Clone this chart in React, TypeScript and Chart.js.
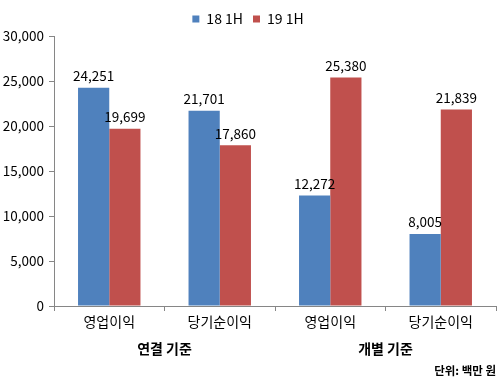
import React, { useEffect, useRef } from "react";
import { Chart, registerables } from "chart.js";

Chart.register(...registerables);

const categories = ["영업이익", "당기순이익", "영업이익", "당기순이익"];
const groupLabels = ["연결 기준", "개별 기준"];
const seriesNames = ["18 1H", "19 1H"];
const series18 = [24251, 21701, 12272, 8005];
const series19 = [19699, 17860, 25380, 21839];
const unitText = "단위: 백만 원";

const FONT = "'Noto Sans CJK KR', 'Noto Sans', sans-serif";
const BLUE = "#4F81BD";
const RED = "#C0504D";

const extrasPlugin = {
  id: "extras",
  afterDatasetsDraw(chart: any) {
    const ctx = chart.ctx;
    ctx.save();
    ctx.font = `13.5px ${FONT}`;
    ctx.fillStyle = "#000";
    ctx.textAlign = "center";
    ctx.textBaseline = "bottom";
    chart.data.datasets.forEach((ds: any, di: number) => {
      const meta = chart.getDatasetMeta(di);
      meta.data.forEach((bar: any, i: number) => {
        const v = ds.data[i];
        ctx.fillText(v.toLocaleString("en-US"), bar.x, bar.y - 5);
      });
    });
    const xs = chart.scales.x;
    ctx.font = `bold 14px ${FONT}`;
    ctx.textBaseline = "middle";
    const g1 = (xs.getPixelForValue(0) + xs.getPixelForValue(1)) / 2;
    const g2 = (xs.getPixelForValue(2) + xs.getPixelForValue(3)) / 2;
    ctx.fillText(groupLabels[0], g1, 349);
    ctx.fillText(groupLabels[1], g2, 349);
    ctx.font = `bold 11.5px ${FONT}`;
    ctx.textAlign = "right";
    ctx.fillText(unitText, 496, 371);
    ctx.restore();
  },
};

export default function App() {
  const ref = useRef<HTMLCanvasElement | null>(null);
  useEffect(() => {
    document.body.style.margin = "0";
    const chart = new Chart(ref.current as HTMLCanvasElement, {
      type: "bar",
      data: {
        labels: categories,
        datasets: [
          { label: seriesNames[0], data: series18, backgroundColor: BLUE, barPercentage: 1, categoryPercentage: 0.565 },
          { label: seriesNames[1], data: series19, backgroundColor: RED, barPercentage: 1, categoryPercentage: 0.565 },
        ],
      },
      options: {
        responsive: false,
        animation: false,
        layout: { padding: { left: 0, right: 4, top: 2, bottom: 0 } },
        plugins: {
          legend: {
            position: "top",
            labels: {
              boxWidth: 7,
              boxHeight: 7,
              padding: 10,
              color: "#000",
              font: { size: 14, family: FONT },
            },
          },
          tooltip: { enabled: false },
        },
        scales: {
          x: {
            grid: { display: true, offset: true, drawOnChartArea: false, tickLength: 5, color: "#868686" },
            border: { color: "#868686" },
            ticks: { color: "#000", font: { size: 14, family: FONT }, padding: 2 },
            afterFit(scale: any) {
              scale.height = 76;
            },
          },
          y: {
            min: 0,
            max: 30000,
            ticks: {
              stepSize: 5000,
              color: "#000",
              font: { size: 13.5, family: FONT },
              padding: 5,
              callback: (v: any) => Number(v).toLocaleString("en-US"),
            },
            grid: { display: true, drawOnChartArea: false, tickLength: 5, color: "#868686" },
            border: { color: "#868686" },
            afterFit(scale: any) {
              scale.width = 54;
            },
          },
        },
      },
      plugins: [extrasPlugin],
    });
    return () => chart.destroy();
  }, []);
  return (
    <div style={{ position: "fixed", left: 0, top: 0, width: 500, height: 382, background: "#fff" }}>
      <canvas ref={ref} width={500} height={382} />
    </div>
  );
}
